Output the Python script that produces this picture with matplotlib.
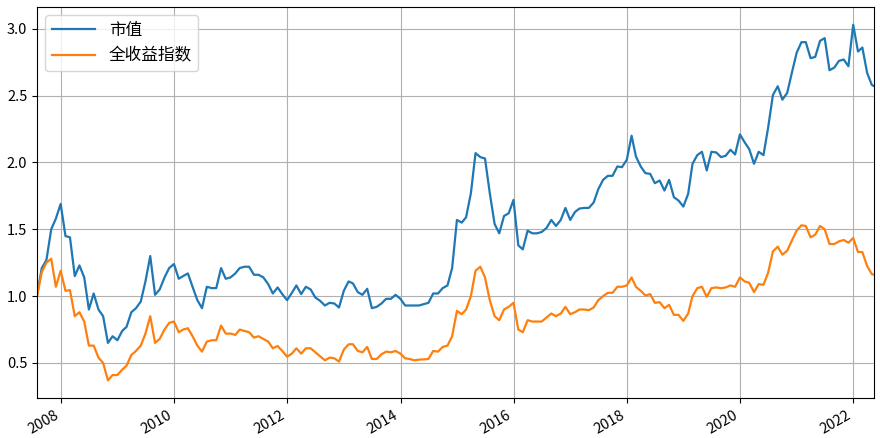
import matplotlib
matplotlib.use('Agg')
import matplotlib.pyplot as plt
import matplotlib.dates as mdates
import numpy as np
import pandas as pd

plt.rcParams['font.family'] = ['Noto Sans CJK SC', 'DejaVu Sans']
plt.rcParams['axes.unicode_minus'] = False

# month-end dates from 2007-07 to 2022-04, plus a last partial-month point
month_start = '2007-07-31'
month_end = '2022-04-30'
last_date = '2022-05-16'

mv = [1.00, 1.21, 1.27, 1.50, 1.58, 1.69, 1.45, 1.44, 1.15, 1.23,
      1.14, 0.90, 1.02, 0.90, 0.85, 0.65, 0.70, 0.67, 0.74, 0.77,
      0.88, 0.91, 0.96, 1.11, 1.30, 1.01, 1.05, 1.14, 1.21, 1.24,
      1.13, 1.15, 1.17, 1.07, 0.97, 0.91, 1.07, 1.06, 1.06, 1.21,
      1.13, 1.14, 1.17, 1.21, 1.22, 1.22, 1.16, 1.16, 1.14, 1.09,
      1.02, 1.065, 1.015, 0.97, 1.025, 1.08, 1.015, 1.07, 1.05, 0.99,
      0.965, 0.93, 0.95, 0.945, 0.915, 1.04, 1.11, 1.095, 1.03, 1.01,
      1.055, 0.91, 0.92, 0.945, 0.98, 0.98, 1.01, 0.98, 0.93, 0.93,
      0.93, 0.93, 0.94, 0.95, 1.02, 1.02, 1.06, 1.08, 1.21, 1.57,
      1.55, 1.59, 1.77, 2.07, 2.04, 2.03, 1.77, 1.54, 1.47, 1.60,
      1.62, 1.72, 1.38, 1.35, 1.49, 1.47, 1.47, 1.48, 1.51, 1.57,
      1.525, 1.57, 1.66, 1.57, 1.63, 1.655, 1.66, 1.66, 1.70, 1.80,
      1.87, 1.90, 1.90, 1.97, 1.965, 2.02, 2.20, 2.045, 1.97, 1.92,
      1.915, 1.845, 1.865, 1.79, 1.87, 1.74, 1.715, 1.67, 1.765, 1.99,
      2.055, 2.08, 1.94, 2.08, 2.075, 2.04, 2.05, 2.095, 2.06, 2.21,
      2.15, 2.10, 1.99, 2.08, 2.055, 2.26, 2.505, 2.57, 2.47, 2.52,
      2.67, 2.82, 2.90, 2.90, 2.78, 2.79, 2.91, 2.93, 2.69, 2.71,
      2.76, 2.77, 2.72, 3.03, 2.83, 2.86, 2.67, 2.58, 2.57]

tr = [1.00, 1.18, 1.25, 1.28, 1.07, 1.19, 1.04, 1.045, 0.85, 0.88,
      0.81, 0.63, 0.63, 0.54, 0.50, 0.37, 0.41, 0.41, 0.45, 0.48,
      0.56, 0.59, 0.63, 0.72, 0.85, 0.65, 0.68, 0.75, 0.80, 0.81,
      0.73, 0.75, 0.76, 0.70, 0.63, 0.585, 0.66, 0.67, 0.67, 0.78,
      0.72, 0.72, 0.71, 0.75, 0.74, 0.73, 0.69, 0.70, 0.68, 0.66,
      0.61, 0.627, 0.59, 0.547, 0.57, 0.61, 0.57, 0.61, 0.61, 0.58,
      0.55, 0.52, 0.54, 0.535, 0.51, 0.60, 0.64, 0.64, 0.59, 0.58,
      0.62, 0.53, 0.53, 0.565, 0.585, 0.58, 0.59, 0.57, 0.535, 0.53,
      0.52, 0.525, 0.527, 0.53, 0.59, 0.585, 0.62, 0.63, 0.70, 0.89,
      0.865, 0.90, 1.00, 1.19, 1.22, 1.14, 0.97, 0.85, 0.82, 0.90,
      0.92, 0.95, 0.75, 0.73, 0.82, 0.81, 0.81, 0.81, 0.84, 0.87,
      0.85, 0.87, 0.92, 0.865, 0.88, 0.90, 0.90, 0.895, 0.915, 0.97,
      1.00, 1.025, 1.025, 1.07, 1.07, 1.08, 1.14, 1.07, 1.04, 1.005,
      1.015, 0.95, 0.955, 0.91, 0.935, 0.86, 0.86, 0.815, 0.87, 1.00,
      1.06, 1.07, 0.995, 1.06, 1.065, 1.06, 1.065, 1.08, 1.07, 1.14,
      1.11, 1.10, 1.03, 1.09, 1.085, 1.175, 1.335, 1.37, 1.31, 1.34,
      1.415, 1.49, 1.53, 1.525, 1.44, 1.46, 1.525, 1.50, 1.39, 1.39,
      1.41, 1.42, 1.40, 1.435, 1.33, 1.33, 1.225, 1.165, 1.16]

labels = ['市值', '全收益指数']

dates = pd.date_range(month_start, month_end, freq='ME').append(pd.DatetimeIndex([last_date]))

fig = plt.figure(figsize=(8.8, 4.38), dpi=100)
ax = fig.add_axes([0.042, 0.091, 0.9515, 0.893])

ax.plot(dates, mv, color='#1f77b4', lw=1.6, label=labels[0])
ax.plot(dates, tr, color='#ff7f0e', lw=1.6, label=labels[1])

ax.set_xlim(dates[0], dates[-1])
ax.xaxis.set_major_locator(mdates.YearLocator(2))
ax.xaxis.set_major_formatter(mdates.DateFormatter('%Y'))
ax.set_yticks([0.5, 1.0, 1.5, 2.0, 2.5, 3.0])
ax.tick_params(labelsize=10.5)
for lab in ax.get_xticklabels():
    lab.set_rotation(30)
    lab.set_ha('right')

ax.grid(True, color='#b0b0b0', lw=0.8)
ax.legend(loc='upper left', fontsize=12, handlelength=2.6)

fig.savefig('out.png', dpi=100)
